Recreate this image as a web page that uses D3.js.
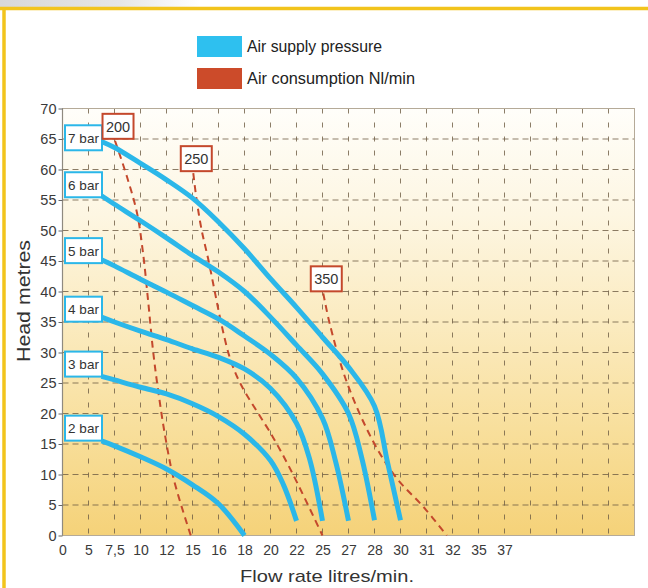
<!DOCTYPE html>
<html><head><meta charset="utf-8">
<script src="https://cdn.jsdelivr.net/npm/d3@7"></script>
<style>body{margin:0;background:#fff}svg{display:block}</style>
</head><body>
<svg id="c" width="648" height="588"></svg>
<script>
// ---------- data ----------
const flowTickValues = [0,5,7.5,10,12,15,16,18,20,22,25,27,28,30,31,32,35,37];
const flowTickLabels = ["0","5","7,5","10","12","15","16","18","20","22","25","27","28","30","31","32","35","37"];
const headTicks = [0,5,10,15,20,25,30,35,40,45,50,55,60,65,70];
const gridSlots = 22;

const pressureNames = ["7 bar","6 bar","5 bar","4 bar","3 bar","2 bar"];
const pressureLabelHead = [65.2,57.5,46.7,37.1,28.1,17.6];
const bar7 = [[6.25,64.6],[7.5,63.6],[10,61.0],[12,58.3],[15,55.3],[16,51.4],[18,47.0],[20,42.1],[22,37.4],[25,32.5],[27,27.6],[28,21.2],[29,12.0],[30,2.5]];
const bar6 = [[6.25,55.7],[7.5,54.3],[10,51.6],[12,48.8],[15,45.9],[16,43.2],[18,40.0],[20,35.8],[22,31.2],[25,26.5],[27,20.0],[27.5,12.9],[28,2.5]];
const bar5 = [[6.25,45.2],[7.5,44.2],[10,42.0],[12,39.9],[15,37.7],[16,35.5],[18,32.7],[20,29.7],[22,25.8],[25,19.2],[26,12.2],[27,2.4]];
const bar4 = [[6.25,35.8],[7.5,35.0],[10,33.5],[12,32.1],[15,30.6],[16,29.2],[18,27.3],[20,24.1],[22,18.4],[23.5,12.6],[25,2.4]];
const bar3 = [[6.25,26.1],[7.5,25.5],[10,24.3],[12,23.2],[15,21.6],[16,19.5],[18,16.6],[20,12.3],[21,8.3],[22,2.4]];
const bar2 = [[6.25,15.5],[7.5,14.7],[10,12.9],[12,10.9],[15,8.3],[16,5.2],[18,0]];
const pressureSeries = [bar7,bar6,bar5,bar4,bar3,bar2];

const consumptionNames = ["200","250","350"];
const nl200 = [[7.55,64.7],[8.7,58.8],[9.66,52.9],[10.19,46.4],[10.58,38.6],[10.96,30.4],[11.35,23.9],[11.88,16.5],[12.86,9.1],[14.8,0]];
const nl250 = [[15.03,59.4],[15.16,55.0],[15.35,50.1],[15.61,45.2],[15.87,39.7],[16.24,34.5],[16.88,29.1],[17.66,25.0],[20.22,16.0],[21.76,9.9],[25,0]];
const nl350 = [[25.06,39.7],[25.58,34.5],[26.86,25.2],[27.95,15.4],[29.7,9.4],[30.88,4.7],[31.78,0]];
const consumptionSeries = [nl200,nl250,nl350];

const legendLabels = ["Air supply pressure","Air consumption Nl/min"];
const xTitle = "Flow rate litres/min.";
const yTitle = "Head metres";

// ---------- drawing ----------
const svg = d3.select("#c");
const L = 62.5, R = 634.5, T = 108.5, B = 535.5;
const BLUE = "#2bb7e9", RED = "#c4482c", YELLOW = "#f2c41c";
const NARROW = "Liberation Sans Narrow, Arial Narrow, Liberation Sans, sans-serif";

const xSlot = d3.scaleLinear().domain([0, gridSlots]).range([L, R]);
const x = d3.scaleLinear().domain(flowTickValues).range(flowTickValues.map((d,i)=>xSlot(i)));
const y = d3.scaleLinear().domain([0,70]).range([B, T]);

const defs = svg.append("defs");
const g1 = defs.append("linearGradient").attr("id","bg").attr("x1",0).attr("y1",0).attr("x2",0).attr("y2",1);
[[0,"#fffefa"],[0.25,"#fdf6e2"],[0.5,"#fbebc0"],[0.75,"#f8df9c"],[1,"#f5d279"]].forEach(s=>g1.append("stop").attr("offset",s[0]).attr("stop-color",s[1]));
const g2 = defs.append("linearGradient").attr("id","gray").attr("x1",0).attr("y1",0).attr("x2",1).attr("y2",0);
[[0,"#d8d8d8"],[0.6,"#e6e6e6"],[1,"#ffffff"]].forEach(s=>g2.append("stop").attr("offset",s[0]).attr("stop-color",s[1]));

// top-left faint gray & yellow frame
svg.append("rect").attr("x",0).attr("y",0).attr("width",200).attr("height",7).attr("fill","url(#gray)");
svg.append("line").attr("x1",0).attr("x2",648).attr("y1",8.5).attr("y2",8.5).attr("stroke",YELLOW).attr("stroke-width",3.5);
svg.append("line").attr("x1",4).attr("x2",4).attr("y1",7).attr("y2",588).attr("stroke",YELLOW).attr("stroke-width",3.5);

// plot background
svg.append("rect").attr("x",L).attr("y",T).attr("width",R-L).attr("height",B-T).attr("fill","url(#bg)");

// grid
const grid = svg.append("g").attr("stroke","#6e5c44").attr("stroke-opacity",0.8).attr("stroke-width",1);
grid.selectAll("line.h").data(headTicks.filter(d=>d>0&&d<70)).join("line")
  .attr("x1",L).attr("x2",R).attr("y1",d=>y(d)).attr("y2",d=>y(d)).attr("stroke-dasharray","6,4");
grid.selectAll("line.v").data(d3.range(1,gridSlots)).join("line")
  .attr("x1",d=>xSlot(d)).attr("x2",d=>xSlot(d)).attr("y1",T).attr("y2",B).attr("stroke-dasharray","5,9");

// frame
svg.append("rect").attr("x",L).attr("y",T).attr("width",R-L).attr("height",B-T).attr("fill","none").attr("stroke","#b5aa98").attr("stroke-width",1);
svg.append("line").attr("x1",L).attr("x2",L).attr("y1",T).attr("y2",B).attr("stroke","#8f8a80").attr("stroke-width",1.2);

// y axis
const yAxis = d3.axisLeft(y).tickValues(headTicks).tickSize(4).tickPadding(2);
const ya = svg.append("g").attr("transform",`translate(${L},0)`).call(yAxis);
ya.select(".domain").remove();
ya.selectAll("line").attr("stroke","#666");
ya.selectAll("text").attr("font-family",NARROW).attr("font-size",14.5).attr("fill","#3a3a3a");

// x axis labels
const xAxis = d3.axisBottom(x).tickValues(flowTickValues).tickFormat((d,i)=>flowTickLabels[i]).tickSize(0).tickPadding(10);
const xa = svg.append("g").attr("transform",`translate(0,${B})`).call(xAxis);
xa.select(".domain").remove();
xa.selectAll("text").attr("font-family",NARROW).attr("font-size",14).attr("fill","#3a3a3a");

// titles
svg.append("text").attr("x",327).attr("y",582).attr("text-anchor","middle")
  .attr("font-family","Liberation Sans, Arial, sans-serif").attr("font-size",17).attr("fill","#333")
  .attr("textLength",174).attr("lengthAdjust","spacingAndGlyphs").text(xTitle);
svg.append("text").attr("transform","translate(30,301) rotate(-90)").attr("text-anchor","middle")
  .attr("font-family","Liberation Sans, Arial, sans-serif").attr("font-size",18).attr("fill","#333")
  .attr("textLength",122).attr("lengthAdjust","spacingAndGlyphs").text(yTitle);

const lineGen = d3.line().x(d=>x(d[0])).y(d=>y(d[1])).curve(d3.curveCatmullRom.alpha(0.5));

// consumption dashed lines
svg.append("g").selectAll("path").data(consumptionSeries).join("path")
  .attr("d",lineGen).attr("fill","none").attr("stroke",RED).attr("stroke-width",2).attr("stroke-dasharray","7,5");

// pressure lines
svg.append("g").selectAll("path").data(pressureSeries).join("path")
  .attr("d",lineGen).attr("fill","none").attr("stroke",BLUE).attr("stroke-width",5).attr("stroke-linecap","butt");

// pressure label boxes
const pb = svg.append("g").selectAll("g").data(pressureNames).join("g")
  .attr("transform",(d,i)=>`translate(${L+2.5},${y(pressureLabelHead[i])-12.5})`);
pb.append("rect").attr("width",37).attr("height",25).attr("fill","#fff").attr("stroke",BLUE).attr("stroke-width",2);
pb.append("text").attr("x",18.5).attr("y",17.5).attr("text-anchor","middle")
  .attr("font-family","Liberation Sans, Arial, sans-serif").attr("font-size",13.5).attr("fill","#333").text(d=>d);

// consumption label boxes
const cb = svg.append("g").selectAll("g").data(consumptionNames).join("g")
  .attr("transform",(d,i)=>{const p=consumptionSeries[i][0];return `translate(${x(p[0])+3-15.5},${y(p[1])-2-25})`;});
cb.append("rect").attr("width",31).attr("height",25).attr("fill","#fff").attr("stroke",RED).attr("stroke-width",2);
cb.append("text").attr("x",15.5).attr("y",18).attr("text-anchor","middle")
  .attr("font-family","Liberation Sans, Arial, sans-serif").attr("font-size",14.5).attr("fill","#333").text(d=>d);

// legend
const leg = svg.append("g").selectAll("g").data(legendLabels).join("g")
  .attr("transform",(d,i)=>`translate(197,${36+i*32})`);
leg.append("rect").attr("width",45).attr("height",21).attr("fill",(d,i)=>i?"#cc4b2a":"#2ec0ef");
leg.append("text").attr("x",50).attr("y",16).attr("font-family",NARROW)
  .attr("font-size",17).attr("fill","#222").attr("textLength",(d,i)=>i?168:135).attr("lengthAdjust","spacingAndGlyphs").text(d=>d);
</script>
</body></html>
